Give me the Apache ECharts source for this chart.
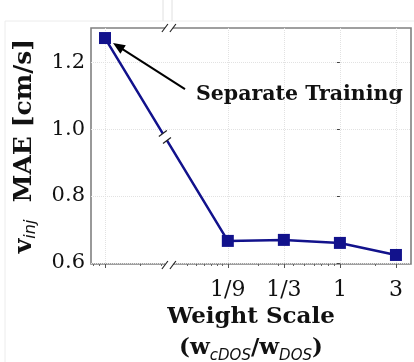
<!DOCTYPE html>
<html>
<head>
<meta charset="utf-8">
<script src="https://cdn.jsdelivr.net/npm/echarts@6/dist/echarts.min.js"></script>
<style>
html, body { margin: 0; padding: 0; background: #fff; }
#main { width: 414px; height: 362px; }
</style>
</head>
<body>
<div id="main"></div>
<script>
// weight scale (log axis, base 3); first point = separate training
var scaleValues = [0.01, 1/9, 1/3, 1, 3];
var scaleLabels = ['', '1/9', '1/3', '1', '3'];
var maeValues = [1.272, 0.666, 0.669, 0.660, 0.624];
var minorTickValues = [0.008, 0.009, 0.02, 0.03, 0.05, 0.06, 0.07, 0.08, 0.09, 0.1,
	0.2, 0.3, 0.4, 0.5, 0.6, 0.7, 0.8, 0.9, 2];
var xRange = [0.0076, 4.03];
var yTicks = [0.6, 0.8, 1.0, 1.2];
var yRange = [0.597, 1.302];
var breakValue = 0.035;

function log3(v) { return Math.log(v) / Math.log(3); }

var serif = 'DejaVu Serif';
var sans = 'DejaVu Sans';

window.onload = function() {
	var c = echarts.init(document.getElementById('main'));
	var pts = scaleValues.map(function(v, i) { return [log3(v), maeValues[i]]; });

	var e = {
		animation: false,
		grid: {
			left: 91, right: 3, top: 28, bottom: 98,
			outerBoundsMode: 'none',
			show: true, borderColor: '#808080', borderWidth: 1.6
		},
		xAxis: [{
			type: 'value',
			min: log3(xRange[0]), max: log3(xRange[1]),
			axisLine: { show: false },
			axisTick: {
				show: true, length: 4, inside: false,
				customValues: scaleValues.map(log3),
				lineStyle: { color: '#555' }
			},
			axisLabel: {
				customValues: scaleValues.slice(1).map(log3),
				formatter: function(v) {
					for (var i = 0; i < scaleValues.length; i++) {
						if (Math.abs(log3(scaleValues[i]) - v) < 1e-6) return scaleLabels[i];
					}
					return '';
				},
				fontFamily: serif, fontSize: 22, color: '#111', margin: 15
			},
			splitLine: { show: true, lineStyle: { color: '#e2e2e2', type: 'dotted' } },
			name: '{b|Weight Scale}\n{b|(w}{s|cDOS}{b|/w}{s|DOS}{b|)}',
			nameLocation: 'middle',
			nameGap: 31,
			nameTextStyle: {
				rich: {
					b: { fontFamily: serif, fontWeight: 'bold', fontSize: 23, color: '#111', lineHeight: 31 },
					s: { fontFamily: sans, fontStyle: 'italic', fontSize: 15, color: '#111', lineHeight: 24, verticalAlign: 'bottom' }
				}
			}
		}, {
			type: 'value',
			position: 'bottom',
			min: log3(xRange[0]), max: log3(xRange[1]),
			axisLine: { show: false },
			axisTick: {
				show: true, length: 2,
				customValues: minorTickValues.map(log3),
				lineStyle: { color: '#666' }
			},
			axisLabel: { show: false },
			splitLine: { show: false }
		}],
		yAxis: {
			type: 'value',
			min: yRange[0], max: yRange[1],
			axisLine: { show: false },
			axisTick: { show: true, length: 3, customValues: yTicks, lineStyle: { color: '#444' } },
			axisLabel: {
				customValues: yTicks,
				formatter: function(v) { return v.toFixed(1); },
				fontFamily: serif, fontSize: 21, color: '#111', margin: 6
			},
			splitLine: { show: true, lineStyle: { color: '#e2e2e2', type: 'dotted' } },
			name: '{b|v}{s|inj}{b|  MAE [cm/s]}',
			nameLocation: 'middle',
			nameRotate: 90,
			nameGap: 52,
			nameTextStyle: {
				rich: {
					b: { fontFamily: serif, fontWeight: 'bold', fontSize: 25, color: '#111', lineHeight: 30 },
					s: { fontFamily: sans, fontStyle: 'italic', fontSize: 16, color: '#111', lineHeight: 22, verticalAlign: 'bottom' }
				}
			}
		},
		series: [{
			type: 'line',
			data: pts,
			symbol: 'rect',
			symbolSize: 12,
			itemStyle: { color: '#12128c' },
			lineStyle: { color: '#12128c', width: 2.5 },
			z: 3
		}]
	};
	c.setOption(e);

	// annotation + axis break marks, positioned through the chart's scales
	var p0 = c.convertToPixel({ gridIndex: 0 }, pts[0]);
	var p1 = c.convertToPixel({ gridIndex: 0 }, pts[1]);
	var bx = c.convertToPixel({ xAxisIndex: 0 }, log3(breakValue));
	var yTop = c.convertToPixel({ yAxisIndex: 0 }, yRange[1]);
	var yBot = c.convertToPixel({ yAxisIndex: 0 }, yRange[0]);

	var g = [];
	function slashPair(cx, cy) {
		g.push({ type: 'rect', shape: { x: cx - 4, y: cy - 3, width: 8, height: 6 }, style: { fill: '#fff' }, z: 20 });
		[-4, 4].forEach(function(o) {
			g.push({ type: 'line', shape: { x1: cx + o - 3, y1: cy + 4, x2: cx + o + 3, y2: cy - 4 },
				style: { stroke: '#222', lineWidth: 1.2 }, z: 21 });
		});
	}
	slashPair(bx, yTop);
	slashPair(bx, yBot + 1);

	// break on the data line
	var lx = bx - 4;
	var t = (lx - p0[0]) / (p1[0] - p0[0]);
	var ly = p0[1] + t * (p1[1] - p0[1]);
	var ux = (p1[0] - p0[0]), uy = (p1[1] - p0[1]);
	var len = Math.sqrt(ux * ux + uy * uy); ux /= len; uy /= len;
	g.push({ type: 'line', shape: { x1: lx - ux * 4, y1: ly - uy * 4, x2: lx + ux * 4, y2: ly + uy * 4 },
		style: { stroke: '#fff', lineWidth: 5 }, z: 20 });
	[-4, 4].forEach(function(o) {
		var cx = lx + ux * o, cy = ly + uy * o;
		g.push({ type: 'line', shape: { x1: cx - 4, y1: cy + 3, x2: cx + 4, y2: cy - 3 },
			style: { stroke: '#222', lineWidth: 1.2 }, z: 21 });
	});

	// arrow to the separate-training point
	var hx = p0[0] + 8, hy = p0[1] + 5;
	var tx = hx + 72, ty = hy + 46;
	var ax = tx - hx, ay = ty - hy, al = Math.sqrt(ax * ax + ay * ay); ax /= al; ay /= al;
	g.push({ type: 'line', shape: { x1: tx, y1: ty, x2: hx + ax * 8, y2: hy + ay * 8 },
		style: { stroke: '#000', lineWidth: 2 }, z: 10 });
	g.push({ type: 'polygon', shape: { points: [
		[hx, hy],
		[hx + ax * 12 - ay * 5, hy + ay * 12 + ax * 5],
		[hx + ax * 12 + ay * 5, hy + ay * 12 - ax * 5]
	] }, style: { fill: '#000' }, z: 10 });
	g.push({ type: 'text', x: tx + 11, y: ty + 6, z: 10,
		style: { text: 'Separate Training', fontFamily: serif, fontWeight: 'bold', fontSize: 20.5,
			fill: '#111', verticalAlign: 'middle', align: 'left' } });

	// faint frame of the source figure
	g.push({ type: 'line', shape: { x1: 5, y1: 21, x2: 414, y2: 21 }, style: { stroke: '#ececec', lineWidth: 1 }, z: 0 });
	g.push({ type: 'line', shape: { x1: 5, y1: 21, x2: 5, y2: 362 }, style: { stroke: '#ececec', lineWidth: 1 }, z: 0 });
	g.push({ type: 'line', shape: { x1: 163, y1: 0, x2: 163, y2: 21 }, style: { stroke: '#e0e0e0', lineWidth: 1 }, z: 0 });
	g.push({ type: 'line', shape: { x1: 172, y1: 0, x2: 172, y2: 21 }, style: { stroke: '#e0e0e0', lineWidth: 1 }, z: 0 });

	c.setOption({ graphic: g });
};
</script>
</body>
</html>
